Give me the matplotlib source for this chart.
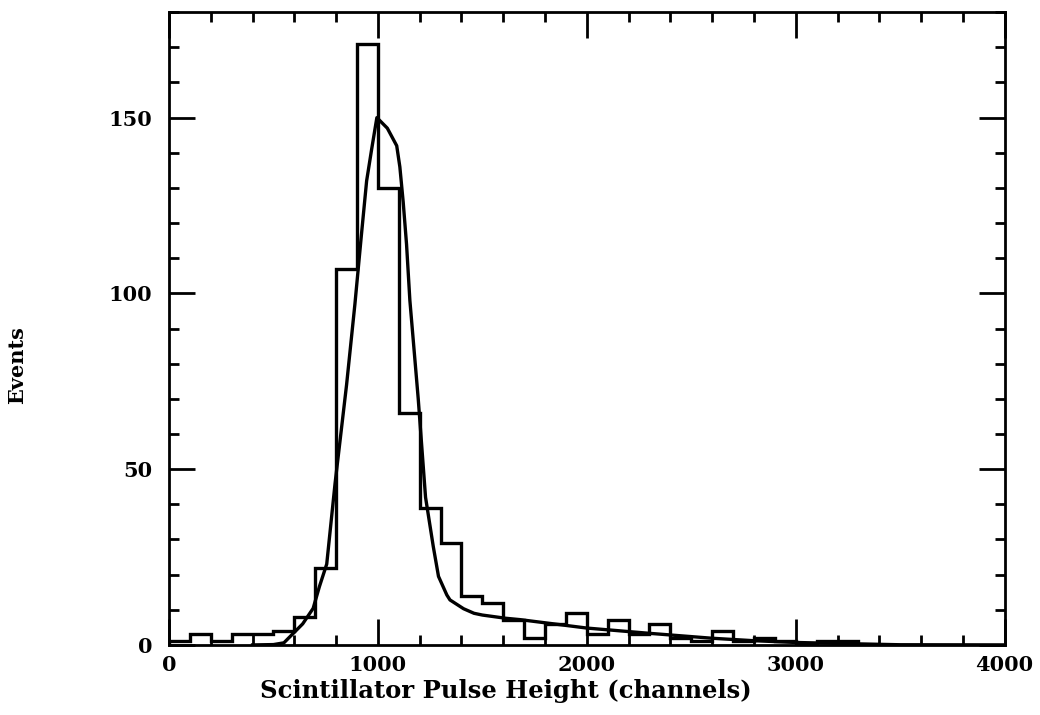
import numpy as np
import matplotlib
matplotlib.use("Agg")
from matplotlib import pyplot as plt
from matplotlib.ticker import MultipleLocator

BIN_WIDTH = 100
# counts per 100-channel bin, 0 .. 4000
counts = [1, 3, 1, 3, 3, 4, 8, 22, 107, 171,
          130, 66, 39, 29, 14, 12, 7, 2, 6, 9,
          3, 7, 3, 6, 2, 1, 4, 1, 2, 1,
          0, 1, 1, 0, 0, 0, 0, 0, 0, 0]

# fitted curve
fit_x = [400, 500, 550, 580, 640, 690, 720, 755, 795, 850, 890, 920, 946, 970, 995,
         1045, 1090, 1105, 1121, 1137, 1153, 1193, 1228, 1265, 1290, 1330, 1345,
         1410, 1460, 1500, 1610, 1680, 2000, 2300, 2600, 2800, 3000, 3300, 3500, 4000]
fit_y = [0, 0.1, 0.6, 2.4, 6.0, 10.4, 16.6, 23, 46, 74, 97, 116, 132, 141, 150,
         147, 142, 136, 126, 114, 98, 70, 42, 28, 19.5, 14.2, 12.8,
         10.3, 9.0, 8.5, 7.6, 7.2, 4.8, 3.3, 1.9, 1.2, 0.7, 0.3, 0.05, 0]

xticks = [0, 1000, 2000, 3000, 4000]
yticks = [0, 50, 100, 150]

font = {"family": "DejaVu Serif", "weight": "bold"}

def main():
    fig = plt.figure(figsize=(10.4, 7.15), dpi=100)
    ax = fig.add_axes([0.1625, 0.098, 0.8035, 0.885])

    edges = np.arange(len(counts) + 1) * BIN_WIDTH
    ax.stairs(counts, edges, color="black", linewidth=2.4, baseline=0)
    ax.plot(fit_x, fit_y, color="black", linewidth=2.4)

    ax.set_xlim(0, 4000)
    ax.set_ylim(0, 180)
    ax.set_xticks(xticks)
    ax.set_yticks(yticks)
    ax.xaxis.set_minor_locator(MultipleLocator(200))
    ax.yaxis.set_minor_locator(MultipleLocator(10))
    ax.tick_params(which="both", direction="in", top=True, right=True,
                   width=2, colors="black")
    ax.tick_params(which="major", length=19, labelsize=15)
    ax.tick_params(axis="x", which="major", pad=7)
    ax.tick_params(axis="y", which="major", pad=12)
    ax.tick_params(which="minor", length=7)
    for lab in ax.get_xticklabels() + ax.get_yticklabels():
        lab.set_family(font["family"])
        lab.set_weight(font["weight"])
    for sp in ax.spines.values():
        sp.set_linewidth(2)

    # the label sits left of the axis centre in the original
    ax.set_xlabel("Scintillator Pulse Height (channels)", fontsize=17.5,
                  labelpad=3, **font)
    ax.xaxis.label.set_x(0.403)
    fig.text(0.016, 0.49, "Events", rotation=90, fontsize=15,
             ha="center", va="center", **font)

    fig.savefig("out.png", dpi=100)

main()
